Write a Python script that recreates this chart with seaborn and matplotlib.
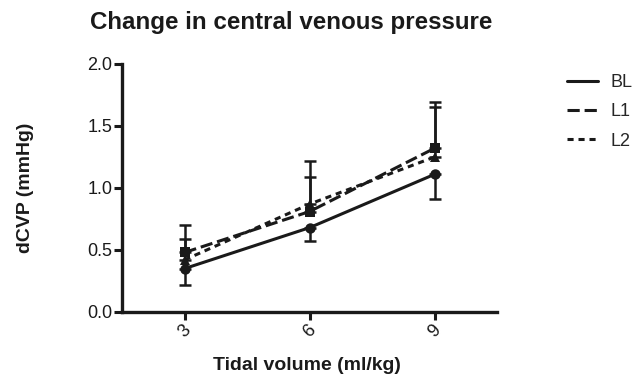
import matplotlib
matplotlib.use("Agg")
import matplotlib.pyplot as plt
import seaborn as sns
import pandas as pd
from matplotlib.lines import Line2D

sns.set_theme(style="ticks")
plt.rcParams['font.family'] = ['Liberation Sans', 'DejaVu Sans']

tidal = [3, 6, 9]
groups = ["BL", "L1", "L2"]
bl_mean = [0.35, 0.68, 1.11]
bl_err = [0.13, 0.11, 0.20]
l1_mean = [0.48, 0.81, 1.32]
l1_err = [0.22, 0.41, 0.37]
l2_mean = [0.42, 0.87, 1.25]
l2_err = [0.17, 0.22, 0.40]

means = {"BL": bl_mean, "L1": l1_mean, "L2": l2_mean}
errs = {"BL": bl_err, "L1": l1_err, "L2": l2_err}

df = pd.DataFrame([
    {"tidal": t, "group": g, "dcvp": means[g][i]}
    for g in groups for i, t in enumerate(tidal)
])

INK = "#1a1a1a"
LW = 2.2
dash_map = {"BL": "", "L1": (4, 1.6), "L2": (2, 1.6)}
marker_map = {"BL": "o", "L1": "s", "L2": "^"}

fig = plt.figure(figsize=(6.38, 3.75), dpi=100)
ax = fig.add_axes([122/638, 1-312/375, (497-122)/638, (312-64)/375])

sns.lineplot(data=df, x="tidal", y="dcvp", hue="group", style="group",
             palette={g: INK for g in groups}, dashes=dash_map,
             markers=marker_map, markersize=7.5, linewidth=LW,
             markeredgewidth=0, ax=ax, legend=False)

for g in groups:
    if g == "BL":
        yerr = [errs[g], [0, 0, 0]]
    else:
        yerr = [[0, 0, 0], errs[g]]
    ax.errorbar(tidal, means[g], yerr=yerr, fmt="none", ecolor=INK,
                elinewidth=1.8, capsize=4.5, capthick=1.8, zorder=1)

ax.set_xlim(1.5, 10.5)
ax.set_ylim(0, 2.0)
ax.set_xticks(tidal)
ax.set_xticklabels([str(t) for t in tidal], rotation=45, fontsize=13)
ax.set_yticks([0, 0.5, 1.0, 1.5, 2.0])
ax.set_yticklabels(["0.0", "0.5", "1.0", "1.5", "2.0"], fontsize=13)
for s in ["top", "right"]:
    ax.spines[s].set_visible(False)
for s in ["left", "bottom"]:
    ax.spines[s].set_linewidth(2.4)
    ax.spines[s].set_color(INK)
ax.tick_params(axis="both", width=2.2, length=5.5, color=INK, labelcolor=INK, pad=1.5)
ax.set_xlabel("")
ax.set_ylabel("")

fig.text(291/638, 1-23/375, "Change in central venous pressure", ha="center", va="center",
         fontsize=17.4, fontweight="bold", color=INK)
fig.text(307/638, 1-365/375, "Tidal volume (ml/kg)", ha="center", va="center",
         fontsize=14, fontweight="bold", color=INK)
fig.text(25/638, 1-188/375, "dCVP (mmHg)", ha="center", va="center", rotation=90,
         fontsize=14, fontweight="bold", color=INK)

handles = [Line2D([0], [0], color=INK, lw=LW, linestyle="-"),
           Line2D([0], [0], color=INK, lw=LW, linestyle=(0, (4, 1.6))),
           Line2D([0], [0], color=INK, lw=LW, linestyle=(0, (2, 1.6)))]
fig.legend(handles, groups, loc="upper left", bbox_to_anchor=(567/638, 1-74/375),
           frameon=False, fontsize=13, handlelength=1.7, handletextpad=0.7,
           labelspacing=0.68, borderaxespad=0, borderpad=0)

fig.savefig("out.png", dpi=100)
